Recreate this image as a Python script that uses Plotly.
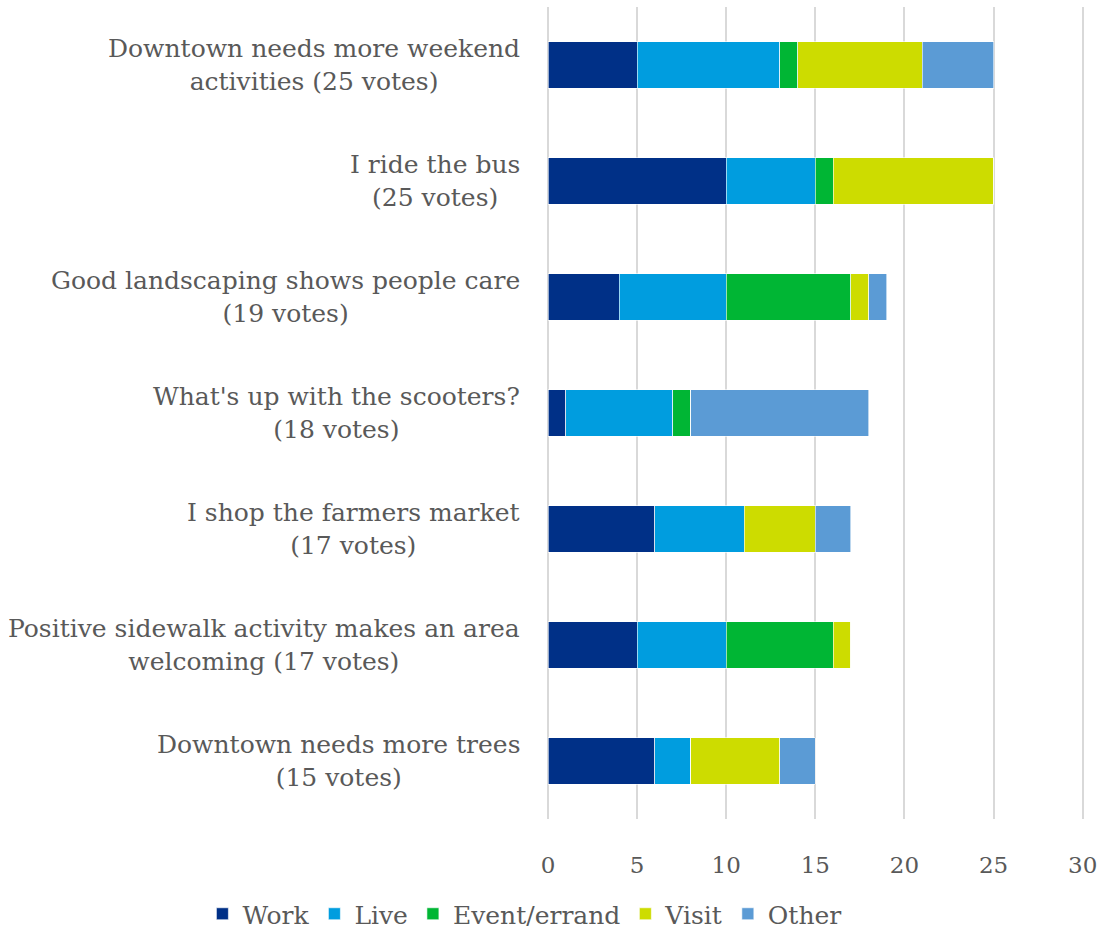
import plotly.graph_objects as go

categories = [
    "Downtown needs more weekend<br>activities (25 votes)",
    "I ride the bus<br>(25 votes)",
    "Good landscaping shows people care<br>(19 votes)",
    "What's up with the scooters?<br>(18 votes)",
    "I shop the farmers market<br>(17 votes)",
    "Positive sidewalk activity makes an area<br>welcoming (17 votes)",
    "Downtown needs more trees<br>(15 votes)",
]
work = [5, 10, 4, 1, 6, 5, 6]
live = [8, 5, 6, 6, 5, 5, 2]
event = [1, 1, 7, 1, 0, 6, 0]
visit = [7, 9, 1, 0, 4, 1, 5]
other = [4, 0, 1, 10, 2, 0, 2]
x_ticks = [0, 5, 10, 15, 20, 25, 30]

series = [
    ("Work", work, "#003087"),
    ("Live", live, "#009ddf"),
    ("Event/errand", event, "#00b634"),
    ("Visit", visit, "#cddc00"),
    ("Other", other, "#5b9bd5"),
]

FONT = "DejaVu Serif"
GRAY = "#595959"

fig = go.Figure()
for name, vals, color in series:
    fig.add_trace(go.Bar(
        name=name, y=categories, x=vals, orientation="h",
        marker=dict(color=color, line=dict(color="white", width=0.6)),
    ))

for c in categories:
    fig.add_annotation(
        x=0, xref="paper", xanchor="right", xshift=-26,
        y=c, yref="y", yanchor="middle",
        text=c, showarrow=False, align="center",
        font=dict(family=FONT, size=25, color=GRAY),
    )

fig.update_layout(
    barmode="stack",
    bargap=0.6,
    width=1118, height=933,
    margin=dict(l=548, r=30, t=7, b=114, autoexpand=False),
    paper_bgcolor="white", plot_bgcolor="white",
    font=dict(family=FONT, color=GRAY, size=22),
    legend=dict(
        orientation="h", x=-0.64, xanchor="left",
        y=-0.117, yanchor="middle",
        font=dict(family=FONT, size=25, color=GRAY),
        traceorder="normal", borderwidth=0,
    ),
    xaxis=dict(
        range=[0, 30.3], tickvals=x_ticks, showgrid=True,
        gridcolor="#d9d9d9", gridwidth=2,
        zeroline=True, zerolinecolor="#d9d9d9", zerolinewidth=2,
        showline=False, ticks="", ticklabelstandoff=30,
        tickfont=dict(family=FONT, size=23, color=GRAY),
    ),
    yaxis=dict(
        autorange="reversed", showticklabels=False, showgrid=False,
        zeroline=False, showline=False,
    ),
)

fig.write_html("out.html")
